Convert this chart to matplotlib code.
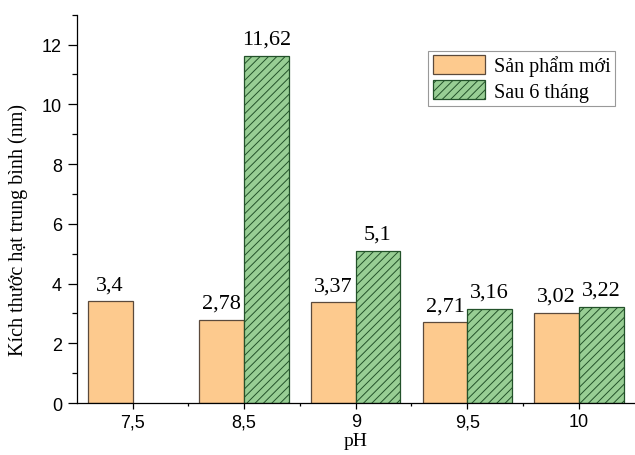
import numpy as np
import matplotlib.pyplot as plt
from matplotlib.ticker import MultipleLocator, FixedLocator

# pH levels and mean particle size (nm)
ph_labels = ['7,5', '8,5', '9', '9,5', '10']
new_product = [3.4, 2.78, 3.37, 2.71, 3.02]
after_6_months = [np.nan, 11.62, 5.1, 3.16, 3.22]

plt.rcParams['hatch.linewidth'] = 0.7

fig = plt.figure(figsize=(6.35, 4.56), dpi=100)
ax = fig.add_axes([0.1208, 0.114, 0.8787, 0.8516])

x = np.arange(len(ph_labels))
w = 0.4

b1 = ax.bar(x - w / 2, new_product, w, color='#FDCA8E', edgecolor='#5b4a3c',
            linewidth=0.9, label='Sản phẩm mới')
b2 = ax.bar(x + w / 2, after_6_months, w, color='#98CE94', edgecolor='#23522a',
            linewidth=0.9, hatch='////', label='Sau 6 tháng')

serif = 'Liberation Serif'
sans = 'Liberation Sans'

# value labels above each bar, decimal comma
for bars, vals in ((b1, new_product), (b2, after_6_months)):
    for rect, v in zip(bars, vals):
        if np.isnan(v):
            continue
        ax.annotate(f'{v:g}'.replace('.', ','),
                    (rect.get_x() + rect.get_width() / 2, v),
                    xytext=(0, 5), textcoords='offset points',
                    ha='center', va='bottom', fontsize=16, family=serif)

ax.set_xlim(-0.5, 4.5)
ax.set_ylim(0, 13)
ax.set_xticks(x)
ax.set_xticklabels(ph_labels)
ax.xaxis.set_minor_locator(FixedLocator(x[:-1] + 0.5))
ax.yaxis.set_major_locator(MultipleLocator(2))
ax.yaxis.set_minor_locator(MultipleLocator(1))

for s in ('top', 'right'):
    ax.spines[s].set_visible(False)
for s in ('left', 'bottom'):
    ax.spines[s].set_linewidth(0.9)

ax.tick_params(axis='y', which='major', direction='out', length=6.5, width=0.9, pad=4)
ax.tick_params(axis='y', which='minor', direction='out', length=3.5, width=0.9)
ax.tick_params(axis='x', which='major', direction='out', length=4.5, width=0.9, pad=3)
ax.tick_params(axis='x', which='minor', direction='out', length=2.5, width=0.9)
for lab in ax.get_xticklabels() + ax.get_yticklabels():
    lab.set_family(sans)
    lab.set_fontsize(13)
    lab.set_color('black')

ax.set_xlabel('pH', fontsize=14, family=serif, labelpad=1)
ax.set_ylabel('Kích thước hạt trung bình (nm)', fontsize=14.5, family=serif)
ax.yaxis.set_label_coords(-0.087, 0.448)

leg = ax.legend(loc='upper right', bbox_to_anchor=(0.965, 0.907), borderaxespad=0,
                prop={'family': serif, 'size': 14.5}, fancybox=False,
                handlelength=2.6, handleheight=1.05, labelspacing=0.2,
                borderpad=0.22, handletextpad=0.45, framealpha=1)
leg.get_frame().set_edgecolor('#999999')
leg.get_frame().set_linewidth(0.8)

fig.savefig('out.png', dpi=100)
